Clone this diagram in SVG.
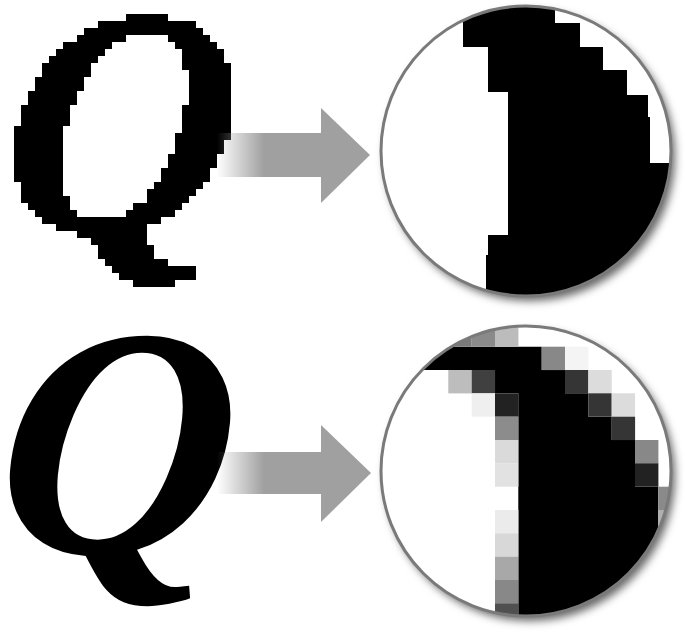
<svg xmlns="http://www.w3.org/2000/svg" width="685" height="633" viewBox="0 0 685 633">
  <defs>
    <style>
      .q { font-family: "Liberation Serif", "Times New Roman", serif; font-style: italic; font-weight: bold; font-size: 328px; fill: #000; }
      .arrow-head { fill: #a0a0a0; }
      .ring { fill: none; stroke: #7a7a7a; stroke-width: 3; }
    </style>
    <linearGradient id="fade" gradientUnits="userSpaceOnUse" x1="217" y1="0" x2="264" y2="0">
      <stop offset="0" stop-color="#a0a0a0" stop-opacity="0"/>
      <stop offset="1" stop-color="#a0a0a0" stop-opacity="1"/>
    </linearGradient>
    <filter id="pixelate" filterUnits="userSpaceOnUse" primitiveUnits="userSpaceOnUse" x="0" y="0" width="245" height="315">
      <feFlood x="3" y="3" width="1" height="1" flood-color="#000"/>
      <feComposite x="0" y="0" width="7" height="7"/>
      <feTile result="grid"/>
      <feComposite in="SourceGraphic" in2="grid" operator="in"/>
      <feMorphology operator="dilate" radius="3"/>
      <feComponentTransfer>
        <feFuncA type="discrete" tableValues="0 1"/>
      </feComponentTransfer>
    </filter>
    <filter id="shadow" x="-10%" y="-10%" width="125%" height="125%">
      <feDropShadow dx="4" dy="5" stdDeviation="4" flood-color="#000" flood-opacity="0.6"/>
    </filter>
    <clipPath id="clipTop"><circle cx="526" cy="151" r="145"/></clipPath>
    <clipPath id="clipBottom"><circle cx="526" cy="471" r="145"/></clipPath>
  </defs>

  <rect width="685" height="633" fill="#fff"/>

  <!-- top: aliased Q -->
  <g id="q-aliased" filter="url(#pixelate)">
    <text class="q" transform="translate(-5,233) skewX(-5)">Q</text>
  </g>

  <!-- bottom: anti-aliased Q -->
  <g id="q-smooth">
    <text class="q" transform="translate(-9,553) skewX(-5)">Q</text>
  </g>

  <!-- arrows -->
  <g id="connectors">
    <g id="arrow-top">
      <rect x="217" y="133" width="106" height="44" fill="url(#fade)"/>
      <polygon class="arrow-head" points="321,108 370,155 321,203"/>
    </g>
    <g id="arrow-bottom">
      <rect x="217" y="452" width="106" height="42" fill="url(#fade)"/>
      <polygon class="arrow-head" points="321,425 371,473 321,522"/>
    </g>
  </g>

  <!-- top magnifier -->
  <g id="magnifier-top">
    <circle cx="526" cy="151" r="145" fill="#fff" filter="url(#shadow)"/>
    <g clip-path="url(#clipTop)">
      <polygon fill="#000" points="463,0 555,0 555,23 580,23 580,47 603,47 603,70 627,70 627,95 648,95 648,117 650,117 650,163 700,163 700,310 486,310 486,255 488,255 488,235 508,235 508,92 488,92 488,47 463,47"/>
    </g>
    <circle class="ring" cx="526" cy="151" r="145"/>
  </g>

  <!-- bottom magnifier -->
  <g id="magnifier-bottom">
    <circle cx="526" cy="471" r="145" fill="#fff" filter="url(#shadow)"/>
    <g clip-path="url(#clipBottom)">
      <polygon fill="#000" points="380,346.7 541.7,346.7 541.7,370 565,370 565,393.3 588.3,393.3 588.3,416.7 611.7,416.7 611.7,440 635,440 635,486.7 658.3,486.7 658.3,533.3 700,533.3 700,630 518.3,630 518.3,393.3 495,393.3 495,370 380,370"/>
      <rect x="448.3" y="323.3" width="23.4" height="23.4" fill="#7a7a7a"/>
      <rect x="471.7" y="323.3" width="23.4" height="23.4" fill="#8a8a8a"/>
      <rect x="495" y="323.3" width="23.4" height="23.4" fill="#bcbcbc"/>
      <rect x="541.7" y="346.7" width="23.4" height="23.4" fill="#888"/>
      <rect x="565" y="346.7" width="23.4" height="23.4" fill="#f4f4f4"/>
      <rect x="448.3" y="370" width="23.4" height="23.4" fill="#bdbdbd"/>
      <rect x="471.7" y="370" width="23.4" height="23.4" fill="#404040"/>
      <rect x="565" y="370" width="23.4" height="23.4" fill="#353535"/>
      <rect x="588.3" y="370" width="23.4" height="23.4" fill="#dcdcdc"/>
      <rect x="471.7" y="393.3" width="23.4" height="23.4" fill="#efefef"/>
      <rect x="495" y="393.3" width="23.4" height="23.4" fill="#222"/>
      <rect x="588.3" y="393.3" width="23.4" height="23.4" fill="#353535"/>
      <rect x="611.7" y="393.3" width="23.4" height="23.4" fill="#dcdcdc"/>
      <rect x="495" y="416.7" width="23.4" height="23.4" fill="#8c8c8c"/>
      <rect x="611.7" y="416.7" width="23.4" height="23.4" fill="#353535"/>
      <rect x="495" y="440" width="23.4" height="23.4" fill="#dadada"/>
      <rect x="635" y="440" width="23.4" height="23.4" fill="#888"/>
      <rect x="495" y="463.3" width="23.4" height="23.4" fill="#e2e2e2"/>
      <rect x="635" y="463.3" width="23.4" height="23.4" fill="#222"/>
      <rect x="658.3" y="486.7" width="23.4" height="23.4" fill="#8a8a8a"/>
      <rect x="495" y="510" width="23.4" height="23.4" fill="#ebebeb"/>
      <rect x="658.3" y="510" width="23.4" height="23.4" fill="#b0b0b0"/>
      <rect x="495" y="533.3" width="23.4" height="23.4" fill="#d8d8d8"/>
      <rect x="495" y="556.7" width="23.4" height="23.4" fill="#a8a8a8"/>
      <rect x="495" y="580" width="23.4" height="23.4" fill="#888"/>
      <rect x="495" y="603.3" width="23.4" height="23.4" fill="#505050"/>
    </g>
    <circle class="ring" cx="526" cy="471" r="145"/>
  </g>
</svg>
